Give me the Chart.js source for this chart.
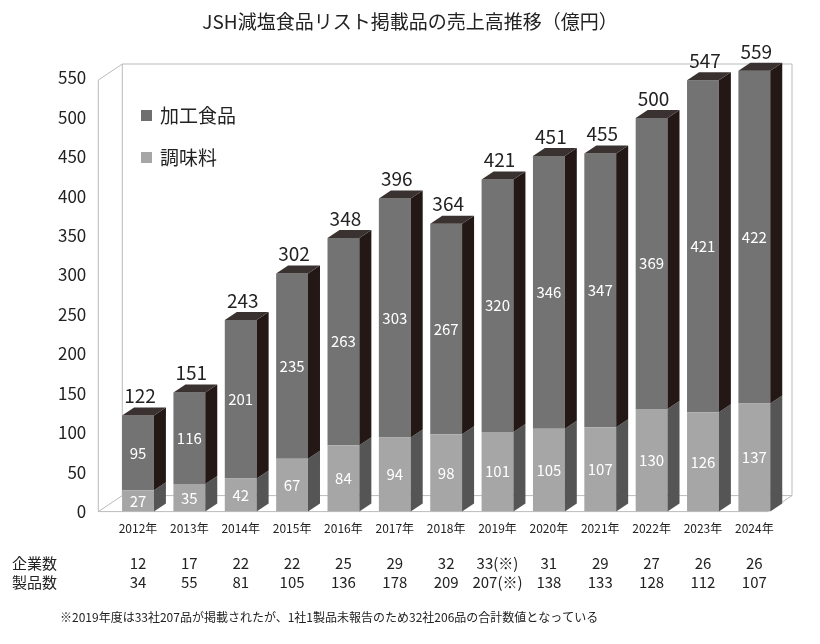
<!DOCTYPE html>
<html lang="ja">
<head>
<meta charset="UTF-8">
<script src="https://cdn.jsdelivr.net/npm/chart.js"></script>
<style>
  body { margin: 0; background: #fff; }
  #wrap { width: 820px; height: 644px; position: relative; }
</style>
</head>
<body>
<div id="wrap"><canvas id="c" width="820" height="644"></canvas></div>
<script>
const years = ['2012年','2013年','2014年','2015年','2016年','2017年','2018年','2019年','2020年','2021年','2022年','2023年','2024年'];
const seasoning = [27, 35, 42, 67, 84, 94, 98, 101, 105, 107, 130, 126, 137];
const processed = [95, 116, 201, 235, 263, 303, 267, 320, 346, 347, 369, 421, 422];
const totals = [122, 151, 243, 302, 348, 396, 364, 421, 451, 455, 500, 547, 559];
const companies = ['12','17','22','22','25','29','32','33(※)','31','29','27','26','26'];
const products = ['34','55','81','105','136','178','209','207(※)','138','133','128','112','107'];

const FONT = '"Noto Sans CJK JP", "Noto Sans", sans-serif';
const DX = 12, DY = -8;

// 3D faces, box outline, labels and the table underneath
const deco = {
  id: 'deco',
  beforeDatasetsDraw(chart) {
    const { ctx, chartArea: a } = chart;
    ctx.save();
    ctx.strokeStyle = '#bbb';
    ctx.lineWidth = 1;
    ctx.beginPath();
    ctx.moveTo(a.left - 14, a.bottom);
    ctx.lineTo(a.left - 14, a.top + 10);
    ctx.lineTo(a.left - 14 + DX * 2, a.top + 10 + DY * 2);
    ctx.lineTo(a.right + DX, a.top + 10 + DY * 2);
    ctx.moveTo(a.left - 14 + DX * 2, a.top + 10 + DY * 2);
    ctx.lineTo(a.left - 14 + DX * 2, a.bottom + DY * 2);
    ctx.lineTo(a.right + DX, a.bottom + DY * 2);
    ctx.moveTo(a.left - 14, a.bottom);
    ctx.lineTo(a.left - 14 + DX * 2, a.bottom + DY * 2);
    ctx.moveTo(a.left - 14, a.bottom);
    ctx.lineTo(a.right - DX, a.bottom);
    ctx.lineTo(a.right + DX, a.bottom + DY * 2);
    ctx.lineTo(a.right + DX, a.top + 10 + DY * 2);
    ctx.stroke();
    ctx.restore();
  },
  afterDatasetsDraw(chart) {
    const { ctx, scales: { x } } = chart;
    const m0 = chart.getDatasetMeta(0).data;
    const m1 = chart.getDatasetMeta(1).data;
    ctx.save();
    m0.forEach((b0, i) => {
      const b1 = m1[i];
      const l = b0.x - b0.width / 2, r = b0.x + b0.width / 2;
      ctx.fillStyle = '#555';
      ctx.beginPath();
      ctx.moveTo(r, b0.base); ctx.lineTo(r + DX, b0.base + DY);
      ctx.lineTo(r + DX, b0.y + DY); ctx.lineTo(r, b0.y); ctx.fill();
      ctx.fillStyle = '#231815';
      ctx.beginPath();
      ctx.moveTo(r, b1.base); ctx.lineTo(r + DX, b1.base + DY);
      ctx.lineTo(r + DX, b1.y + DY); ctx.lineTo(r, b1.y); ctx.fill();
      ctx.fillStyle = '#3a3230';
      ctx.beginPath();
      ctx.moveTo(l, b1.y); ctx.lineTo(l + DX, b1.y + DY);
      ctx.lineTo(r + DX, b1.y + DY); ctx.lineTo(r, b1.y); ctx.fill();
      ctx.fillStyle = '#fff';
      ctx.font = '15px ' + FONT;
      ctx.textAlign = 'center'; ctx.textBaseline = 'middle';
      ctx.fillText(seasoning[i], b0.x, (b0.y + b0.base) / 2);
      ctx.fillText(processed[i], b1.x, (b1.y + b1.base) / 2);
      ctx.fillStyle = '#222';
      ctx.font = '19px ' + FONT;
      ctx.textBaseline = 'bottom';
      ctx.fillText(totals[i], b0.x + 2, b1.y - 10);
      ctx.font = '15px ' + FONT;
      ctx.textBaseline = 'middle';
      ctx.fillText(companies[i], x.getPixelForValue(i), 563);
      ctx.fillText(products[i], x.getPixelForValue(i), 582);
    });
    ctx.textAlign = 'left';
    ctx.fillText('企業数', 12, 563);
    ctx.fillText('製品数', 12, 582);
    ctx.font = '12px ' + FONT;
    ctx.fillText('※2019年度は33社207品が掲載されたが、1社1製品未報告のため32社206品の合計数値となっている', 60, 617);
    ctx.font = '19px ' + FONT;
    ctx.textAlign = 'center';
    ctx.fillText('JSH減塩食品リスト掲載品の売上高推移（億円）', 410, 22);
    ctx.textAlign = 'left';
    ctx.fillStyle = '#6f6f6f'; ctx.fillRect(141, 110, 11, 11);
    ctx.fillStyle = '#a6a6a6'; ctx.fillRect(141, 152, 11, 11);
    ctx.fillStyle = '#222';
    ctx.fillText('加工食品', 160, 116);
    ctx.fillText('調味料', 160, 158);
    ctx.restore();
  }
};

new Chart(document.getElementById('c'), {
  type: 'bar',
  data: {
    labels: years,
    datasets: [
      { label: '調味料', data: seasoning, backgroundColor: '#a6a6a6' },
      { label: '加工食品', data: processed, backgroundColor: '#737373' }
    ]
  },
  options: {
    responsive: false,
    animation: false,
    layout: { padding: { top: 70, left: 40, right: 40, bottom: 98 } },
    plugins: { legend: { display: false }, tooltip: { enabled: false } },
    datasets: { bar: { barPercentage: 0.62, categoryPercentage: 1 } },
    scales: {
      x: {
        stacked: true,
        grid: { display: false, drawTicks: false },
        border: { display: false },
        ticks: { color: '#222', font: { size: 12, family: FONT }, padding: 10, maxRotation: 0, autoSkip: false }
      },
      y: {
        stacked: true,
        min: 0, max: 560,
        grid: { display: false },
        border: { display: false },
        ticks: {
          stepSize: 10, autoSkip: false,
          callback: v => (v % 50 === 0 && v <= 550) ? v : '',
          color: '#222', font: { size: 17, family: FONT }, padding: 18
        }
      }
    }
  },
  plugins: [deco]
});
</script>
</body>
</html>
